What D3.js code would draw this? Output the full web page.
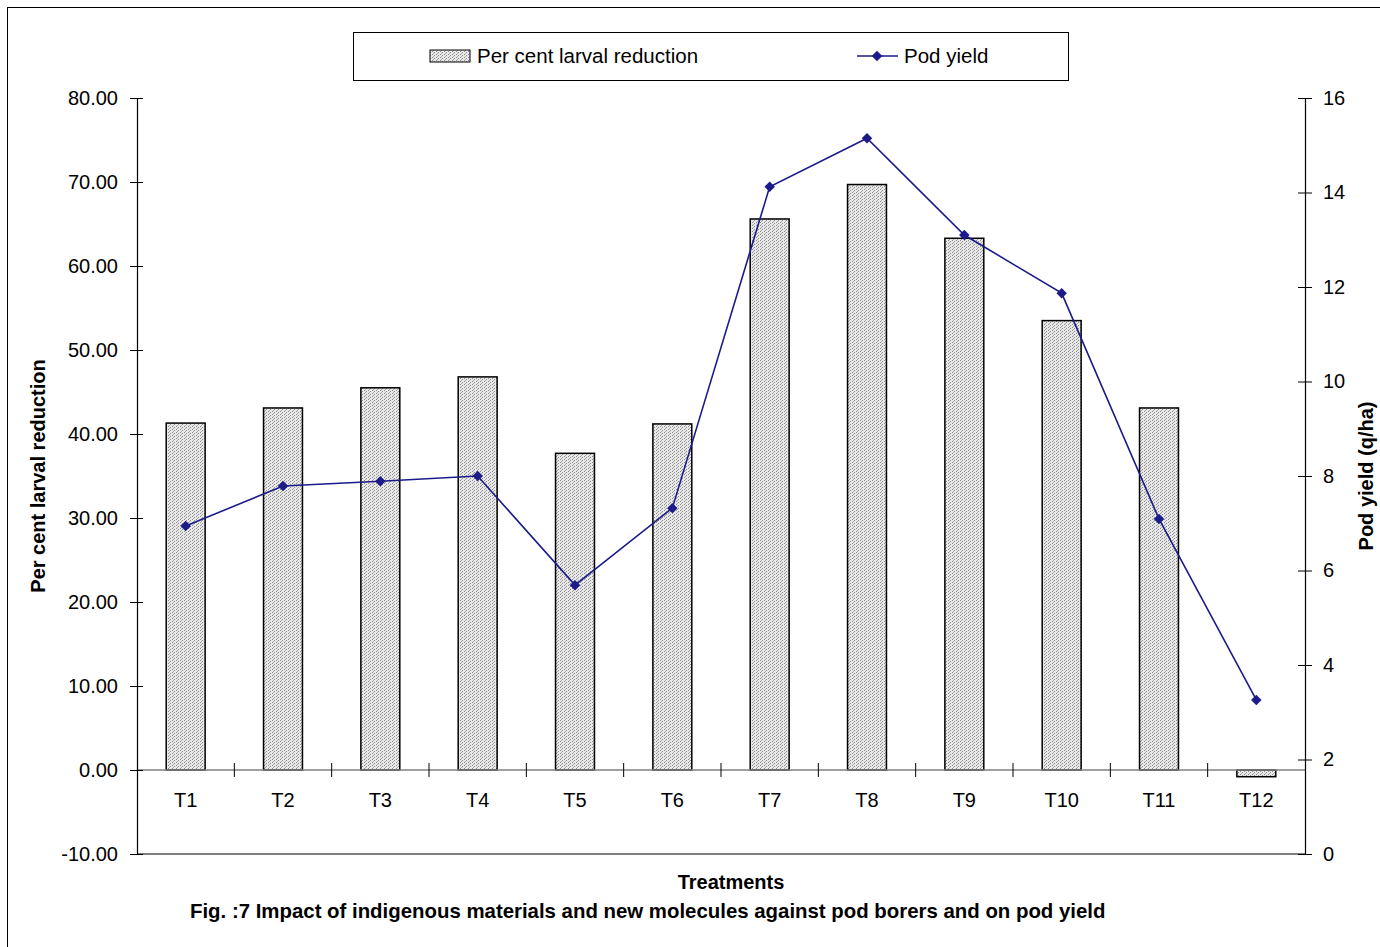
<!DOCTYPE html>
<html><head><meta charset="utf-8">
<script src="https://cdn.jsdelivr.net/npm/d3@7"></script>
<style>body{margin:0;background:#fff}svg{display:block;font-family:"Liberation Sans",Arial,sans-serif}</style>
</head><body>
<svg id="c" width="1380" height="947"></svg>
<script>
const categories = ["T1","T2","T3","T4","T5","T6","T7","T8","T9","T10","T11","T12"];
const larvalReduction = [41.3, 43.1, 45.5, 46.8, 37.7, 41.2, 65.6, 69.7, 63.3, 53.5, 43.1, -0.8];
const podYield = [6.94, 7.79, 7.89, 8.0, 5.69, 7.32, 14.12, 15.15, 13.1, 11.87, 7.09, 3.26];
const leftTicks = [-10,0,10,20,30,40,50,60,70,80];
const rightTicks = [0,2,4,6,8,10,12,14,16];

const svg = d3.select("#c");
const L = 137, R = 1305, T = 98, B = 854;
const navy = "#1b1b8a";
const FS = 20;

const defs = svg.append("defs");
const pat = defs.append("pattern").attr("id","dots").attr("patternUnits","userSpaceOnUse").attr("width",4).attr("height",3);
pat.append("rect").attr("width",4).attr("height",3).attr("fill","#e8e8e8");
pat.append("rect").attr("x",0).attr("y",0).attr("width",1).attr("height",1).attr("fill","#8f8f8f");
pat.append("rect").attr("x",2).attr("y",1).attr("width",1).attr("height",1).attr("fill","#8f8f8f");
pat.append("rect").attr("x",1).attr("y",2).attr("width",1).attr("height",1).attr("fill","#a8a8a8");

// outer border
svg.append("rect").attr("x",7.5).attr("y",7.5).attr("width",1400).attr("height",1000).attr("fill","none").attr("stroke","#000").attr("stroke-width",1);

const xb = d3.scaleBand().domain(categories).range([L,R]);
const yL = d3.scaleLinear().domain([-10,80]).range([B,T]);
const yR = d3.scaleLinear().domain([0,16]).range([B,T]);

// bars
svg.append("g").selectAll("rect").data(larvalReduction).join("rect")
  .attr("x",(d,i)=>xb(categories[i]) + xb.bandwidth()*0.3)
  .attr("width",xb.bandwidth()*0.4)
  .attr("y",d=>yL(Math.max(d,0)))
  .attr("height",d=>Math.abs(yL(d)-yL(0)))
  .attr("fill","url(#dots)").attr("stroke","#000").attr("stroke-width",1.5);

// zero line
svg.append("line").attr("x1",L).attr("x2",R).attr("y1",yL(0)).attr("y2",yL(0)).attr("stroke","#808080").attr("stroke-width",1.5);
// category ticks between bands
svg.append("g").selectAll("line").data(categories.slice(1)).join("line")
  .attr("x1",d=>xb(d)).attr("x2",d=>xb(d)).attr("y1",yL(0)-7).attr("y2",yL(0)+7).attr("stroke","#000");
// category labels
svg.append("g").selectAll("text").data(categories).join("text")
  .attr("x",d=>xb(d)+xb.bandwidth()/2).attr("y",yL(0)+37).attr("text-anchor","middle")
  .attr("font-size",FS).text(d=>d);

// bottom line
svg.append("line").attr("x1",L).attr("x2",R).attr("y1",B).attr("y2",B).attr("stroke","#555").attr("stroke-width",1.5);

// left axis
const fmt = d3.format(".2f");
const gl = svg.append("g").attr("transform",`translate(${L},0)`)
  .call(d3.axisLeft(yL).tickValues(leftTicks).tickFormat(d=>fmt(d).replace("\u2212","-")).tickSize(0).tickPadding(19));
gl.select(".domain").attr("stroke","#000").attr("stroke-width",1.2);
gl.selectAll("text").attr("font-size",FS).attr("font-family","Liberation Sans, Arial, sans-serif").attr("fill","#000");
gl.selectAll(".tick").append("line").attr("x1",-7).attr("x2",6).attr("stroke","#000");

// right axis
const gr = svg.append("g").attr("transform",`translate(${R},0)`)
  .call(d3.axisRight(yR).tickValues(rightTicks).tickSize(0).tickPadding(18));
gr.select(".domain").attr("stroke","#000").attr("stroke-width",1.2);
gr.selectAll("text").attr("font-size",FS).attr("font-family","Liberation Sans, Arial, sans-serif").attr("fill","#000");
gr.selectAll(".tick").append("line").attr("x1",-7).attr("x2",7).attr("stroke","#000");

// line
const cx = (d,i)=>xb(categories[i])+xb.bandwidth()/2;
svg.append("path").datum(podYield)
  .attr("d",d3.line().x(cx).y(d=>yR(d)))
  .attr("fill","none").attr("stroke",navy).attr("stroke-width",1.6);
svg.append("g").selectAll("path").data(podYield).join("path")
  .attr("d",d3.symbol(d3.symbolSquare,55)).attr("transform",(d,i)=>`translate(${cx(d,i)},${yR(d)}) rotate(45)`)
  .attr("fill",navy);

// legend
svg.append("rect").attr("x",353.5).attr("y",32.5).attr("width",715).attr("height",48).attr("fill","#fff").attr("stroke","#000");
svg.append("rect").attr("x",430).attr("y",50).attr("width",40).attr("height",12).attr("fill","url(#dots)").attr("stroke","#000");
svg.append("text").attr("x",477).attr("y",63).attr("font-size",20.5).text("Per cent larval reduction");
svg.append("line").attr("x1",857).attr("x2",898).attr("y1",56).attr("y2",56).attr("stroke",navy).attr("stroke-width",1.6);
svg.append("path").attr("d",d3.symbol(d3.symbolSquare,55)).attr("transform","translate(877,56) rotate(45)").attr("fill",navy);
svg.append("text").attr("x",904).attr("y",63).attr("font-size",20.5).text("Pod yield");

// axis titles
svg.append("text").attr("transform",`translate(45,${(T+B)/2}) rotate(-90)`).attr("text-anchor","middle")
  .attr("font-size",FS).attr("font-weight","bold").text("Per cent larval reduction");
svg.append("text").attr("transform",`translate(1373,${(T+B)/2}) rotate(-90)`).attr("text-anchor","middle")
  .attr("font-size",FS).attr("font-weight","bold").text("Pod yield (q/ha)");
svg.append("text").attr("x",731).attr("y",889).attr("text-anchor","middle")
  .attr("font-size",FS).attr("font-weight","bold").text("Treatments");
svg.append("text").attr("x",190).attr("y",918)
  .attr("font-size",20.4).attr("font-weight","bold").text("Fig. :7 Impact of indigenous materials and new molecules against pod borers and on pod yield");
</script>
</body></html>
